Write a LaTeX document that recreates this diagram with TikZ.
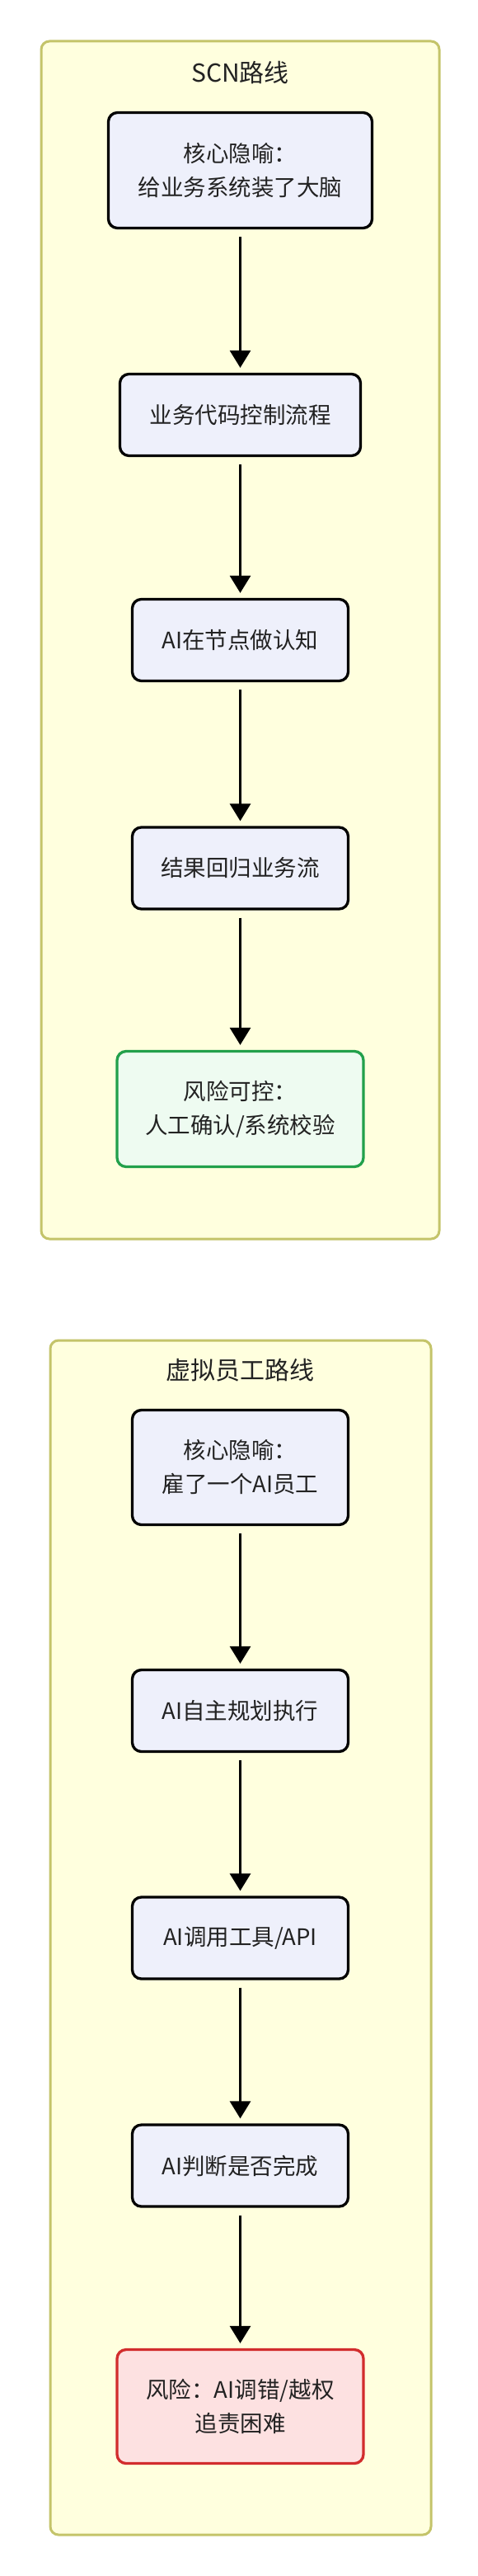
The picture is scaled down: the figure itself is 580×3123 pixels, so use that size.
\documentclass[tikz,border=0pt]{standalone}
\usepackage{fontspec}
\setmainfont{Noto Sans CJK SC}
\usetikzlibrary{arrows.meta,positioning}
\definecolor{clfill}{HTML}{FFFFDE}
\definecolor{cldraw}{HTML}{C4C46A}
\definecolor{boxfill}{HTML}{EEF0FB}
\definecolor{okfill}{HTML}{EEFBF1}
\definecolor{okdraw}{HTML}{22A04B}
\definecolor{badfill}{HTML}{FDE1E1}
\definecolor{baddraw}{HTML}{D22D2D}
\definecolor{txt}{HTML}{222222}
\tikzset{
  cluster/.style={draw=cldraw, fill=clfill, line width=3pt, rounded corners=10pt},
  cltitle/.style={font=\fontsize{30}{36}\selectfont, text=txt, inner sep=0pt},
  stepbox/.style={draw=black, fill=boxfill, line width=3.3pt, rounded corners=11pt,
    font=\fontsize{27.5}{41}\selectfont, text=txt, align=center, inner sep=0pt},
  okbox/.style={stepbox, draw=okdraw, fill=okfill},
  badbox/.style={stepbox, draw=baddraw, fill=badfill},
  flow/.style={line width=3pt, -{Triangle[width=25pt,length=21pt]}, shorten <=9pt, shorten >=6pt}
}
\begin{document}
\begin{tikzpicture}[x=1pt,y=-1pt]
\useasboundingbox[fill=white] (0,0) rectangle (580,3123);
% clusters
\path[cluster] (50,50) rectangle (533,1502);
\node[cltitle] (t1) at (291.5,88) {SCN路线};
\path[cluster] (61,1625) rectangle (523,3073);
\node[cltitle] (t2) at (291.5,1661) {虚拟员工路线};
% SCN route
\node[stepbox, minimum width=320pt, minimum height=140pt] (a1) at (291.5,206.5) {核心隐喻：\\给业务系统装了大脑};
\node[stepbox, minimum width=292pt, minimum height=99pt] (a2) at (291.5,503) {业务代码控制流程};
\node[stepbox, minimum width=262pt, minimum height=99pt] (a3) at (291.5,776) {AI在节点做认知};
\node[stepbox, minimum width=262pt, minimum height=99pt] (a4) at (291.5,1052.5) {结果回归业务流};
\node[okbox, minimum width=299pt, minimum height=140pt] (a5) at (291.5,1344.5) {风险可控：\\人工确认/系统校验};
% virtual employee route
\node[stepbox, minimum width=262pt, minimum height=139pt] (b1) at (291.5,1779) {核心隐喻：\\雇了一个AI员工};
\node[stepbox, minimum width=262pt, minimum height=99pt] (b2) at (291.5,2074) {AI自主规划执行};
\node[stepbox, minimum width=262pt, minimum height=99pt] (b3) at (291.5,2349.5) {AI调用工具/API};
\node[stepbox, minimum width=262pt, minimum height=99pt] (b4) at (291.5,2625.5) {AI判断是否完成};
\node[badbox, minimum width=299pt, minimum height=138pt] (b5) at (291.5,2917.5) {风险：AI调错/越权\\追责困难};
% connectors
\draw[flow] (a1) -- (a2);
\draw[flow] (a2) -- (a3);
\draw[flow] (a3) -- (a4);
\draw[flow] (a4) -- (a5);
\draw[flow] (b1) -- (b2);
\draw[flow] (b2) -- (b3);
\draw[flow] (b3) -- (b4);
\draw[flow] (b4) -- (b5);
\end{tikzpicture}
\end{document}
